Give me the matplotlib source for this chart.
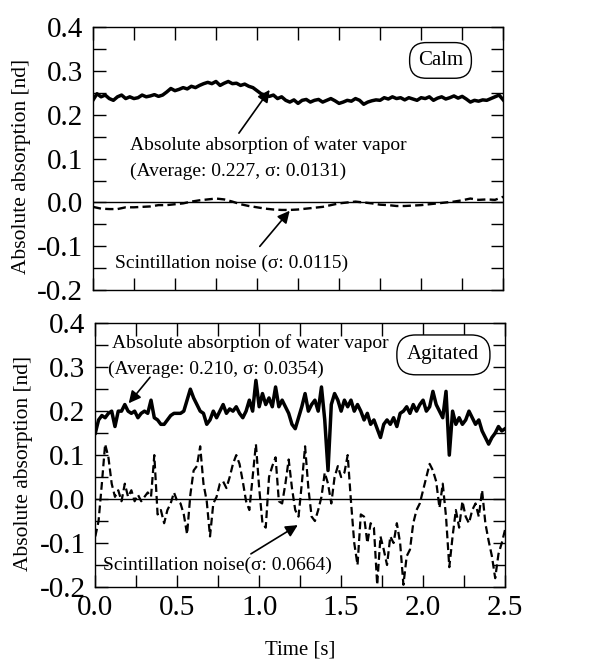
import numpy as np
import matplotlib
matplotlib.use("Agg")
import matplotlib.pyplot as plt
from matplotlib.ticker import MultipleLocator

plt.rcParams['font.family'] = ['Liberation Serif', 'DejaVu Serif']

# calm case, sampled every 0.025 s
t_calm = np.arange(101) * 0.025
calm_abs = [0.233, 0.248, 0.241, 0.245, 0.237, 0.233, 0.241, 0.245, 0.237, 0.241,
            0.237, 0.239, 0.245, 0.241, 0.243, 0.246, 0.242, 0.245, 0.252, 0.260,
            0.255, 0.258, 0.262, 0.259, 0.265, 0.262, 0.267, 0.271, 0.274, 0.271,
            0.276, 0.267, 0.272, 0.276, 0.271, 0.272, 0.267, 0.270, 0.265, 0.262,
            0.255, 0.248, 0.245, 0.242, 0.245, 0.237, 0.241, 0.233, 0.229, 0.234,
            0.226, 0.233, 0.235, 0.229, 0.233, 0.235, 0.229, 0.233, 0.237, 0.232,
            0.226, 0.229, 0.233, 0.231, 0.237, 0.233, 0.224, 0.229, 0.232, 0.234,
            0.233, 0.239, 0.236, 0.241, 0.237, 0.239, 0.234, 0.239, 0.236, 0.233,
            0.239, 0.237, 0.241, 0.233, 0.238, 0.241, 0.236, 0.239, 0.243, 0.238,
            0.242, 0.236, 0.229, 0.233, 0.231, 0.234, 0.233, 0.237, 0.241, 0.245,
            0.234]
# calm scintillation noise, sampled every 0.05 s
t_calm_n = np.arange(51) * 0.05
calm_noise = [-0.010, -0.014, -0.015, -0.015, -0.011, -0.011, -0.010, -0.009, -0.006, -0.006,
              -0.004, -0.002, 0.002, 0.005, 0.007, 0.009, 0.007, 0.002, -0.004, -0.008,
              -0.011, -0.014, -0.016, -0.017, -0.017, -0.016, -0.014, -0.012, -0.010, -0.006,
              -0.002, 0.000, 0.002, 0.000, -0.002, -0.005, -0.006, -0.008, -0.008, -0.007,
              -0.006, -0.004, -0.002, 0.000, 0.002, 0.005, 0.009, 0.006, 0.007, 0.006,
              0.013]

# agitated case, sampled every 0.02 s
t_agit = np.arange(126) * 0.02
agit_abs = [0.150, 0.180, 0.190, 0.185, 0.195, 0.200, 0.165, 0.200, 0.200, 0.215,
            0.200, 0.195, 0.200, 0.185, 0.195, 0.200, 0.195, 0.225, 0.185, 0.180,
            0.170, 0.170, 0.180, 0.190, 0.195, 0.195, 0.195, 0.200, 0.225, 0.250,
            0.230, 0.215, 0.200, 0.195, 0.170, 0.180, 0.200, 0.185, 0.200, 0.215,
            0.195, 0.205, 0.200, 0.210, 0.195, 0.185, 0.200, 0.225, 0.200, 0.270,
            0.210, 0.240, 0.215, 0.230, 0.210, 0.255, 0.210, 0.225, 0.210, 0.195,
            0.170, 0.160, 0.185, 0.210, 0.240, 0.200, 0.215, 0.225, 0.200, 0.255,
            0.180, 0.065, 0.215, 0.240, 0.225, 0.200, 0.225, 0.210, 0.225, 0.200,
            0.215, 0.200, 0.180, 0.195, 0.170, 0.180, 0.160, 0.140, 0.170, 0.180,
            0.170, 0.185, 0.165, 0.195, 0.200, 0.210, 0.195, 0.215, 0.200, 0.215,
            0.225, 0.200, 0.210, 0.245, 0.215, 0.200, 0.185, 0.245, 0.100, 0.200,
            0.170, 0.185, 0.170, 0.180, 0.200, 0.185, 0.170, 0.180, 0.155, 0.140,
            0.125, 0.140, 0.150, 0.165, 0.155, 0.160]
agit_noise = [-0.085, -0.050, 0.035, 0.125, 0.095, 0.035, 0.005, 0.020, -0.005, 0.035,
              0.005, 0.020, -0.005, 0.010, -0.005, 0.005, 0.015, 0.005, 0.100, -0.035,
              -0.025, -0.055, -0.025, -0.010, 0.015, -0.005, -0.010, -0.035, -0.080, 0.010,
              0.065, 0.075, 0.120, 0.035, -0.005, -0.085, -0.010, 0.005, 0.035, 0.040,
              0.025, 0.050, 0.080, 0.100, 0.080, 0.040, -0.005, -0.025, 0.050, 0.125,
              0.025, -0.055, -0.065, 0.050, 0.075, 0.095, -0.005, -0.010, 0.035, 0.090,
              0.025, -0.025, -0.040, 0.035, 0.120, 0.025, -0.040, -0.050, -0.025, 0.005,
              0.060, 0.035, -0.010, 0.050, 0.075, 0.050, 0.060, 0.100, -0.005, -0.100,
              -0.150, -0.035, -0.040, -0.100, -0.055, -0.065, -0.195, -0.085, -0.115, -0.150,
              -0.085, -0.100, -0.055, -0.100, -0.195, -0.130, -0.115, -0.055, -0.025, -0.010,
              0.020, 0.050, 0.080, 0.065, 0.040, -0.020, 0.035, -0.040, -0.155, -0.085,
              -0.025, -0.065, -0.005, -0.040, -0.055, -0.025, -0.010, -0.040, 0.020, -0.055,
              -0.095, -0.130, -0.180, -0.125, -0.100, -0.070]

fig = plt.figure(figsize=(6.07, 6.61), dpi=100)
ax1 = fig.add_axes([0.153, 0.561, 0.676, 0.398])
ax2 = fig.add_axes([0.157, 0.112, 0.675, 0.399])

for ax in (ax1, ax2):
    ax.axhline(0, color='black', lw=1.0)
    ax.set_xlim(0, 2.5)
    ax.set_ylim(-0.2, 0.4)
    ax.xaxis.set_major_locator(MultipleLocator(0.5))
    ax.xaxis.set_minor_locator(MultipleLocator(0.25))
    ax.yaxis.set_major_locator(MultipleLocator(0.1))
    ax.yaxis.set_minor_locator(MultipleLocator(0.05))
    ax.tick_params(which='both', direction='in', top=True, right=True,
                   length=9, width=1.0, labelsize=21)
    ax.tick_params(axis='y', pad=7)
    ax.set_ylabel('Absolute absorption [nd]', fontsize=15.5)
    ax.yaxis.set_label_coords(-0.152, 0.47)
    ax.yaxis.set_major_formatter(plt.FuncFormatter(lambda v, p: '%.1f' % v))
    for s in ax.spines.values():
        s.set_linewidth(1.0)

ax1.plot(t_calm, calm_abs, color='black', lw=2.5)
ax1.plot(t_calm_n, calm_noise, color='black', lw=1.7, ls=(0, (3.5, 1.8)))
ax1.tick_params(labelbottom=False)

ax2.plot(t_agit, agit_abs, color='black', lw=2.5)
ax2.plot(t_agit, agit_noise, color='black', lw=1.6, ls=(0, (3.5, 1.8)))
ax2.set_xlabel('Time [s]', fontsize=15, labelpad=14)
ax2.xaxis.set_major_formatter(plt.FuncFormatter(lambda v, p: '%.1f' % v))
ax2.tick_params(axis='x', pad=6)

arrow = dict(arrowstyle='-|>', color='black', lw=1.2, mutation_scale=18)
box1 = dict(boxstyle='round,pad=0.4,rounding_size=0.8', fc='white', ec='black', lw=1.0)
box2 = dict(boxstyle='round,pad=0.5,rounding_size=0.9', fc='white', ec='black', lw=1.0)

ax1.text(0.224, 0.131, 'Absolute absorption of water vapor', fontsize=14, va='center')
ax1.text(0.224, 0.070, '(Average: 0.227, σ: 0.0131)', fontsize=14, va='center')
ax1.annotate('', xy=(1.087, 0.262), xytext=(0.88, 0.153), arrowprops=arrow)
ax1.text(0.132, -0.139, 'Scintillation noise (σ: 0.0115)', fontsize=14, va='center')
ax1.annotate('', xy=(1.21, -0.014), xytext=(1.006, -0.105), arrowprops=arrow)
ax1.text(2.118, 0.324, 'Calm', fontsize=15, ha='center', va='center', bbox=box1)

ax2.text(0.10, 0.354, 'Absolute absorption of water vapor', fontsize=14, va='center')
ax2.text(0.08, 0.294, '(Average: 0.210, σ: 0.0354)', fontsize=14, va='center')
ax2.annotate('', xy=(0.193, 0.213), xytext=(0.345, 0.282), arrowprops=arrow)
ax2.text(0.05, -0.151, 'Scintillation noise(σ: 0.0664)', fontsize=14, va='center')
ax2.annotate('', xy=(1.25, -0.056), xytext=(0.935, -0.128), arrowprops=arrow)
ax2.text(2.124, 0.328, 'Agitated', fontsize=15, ha='center', va='center', bbox=box2)

fig.savefig('out.png', dpi=100)
